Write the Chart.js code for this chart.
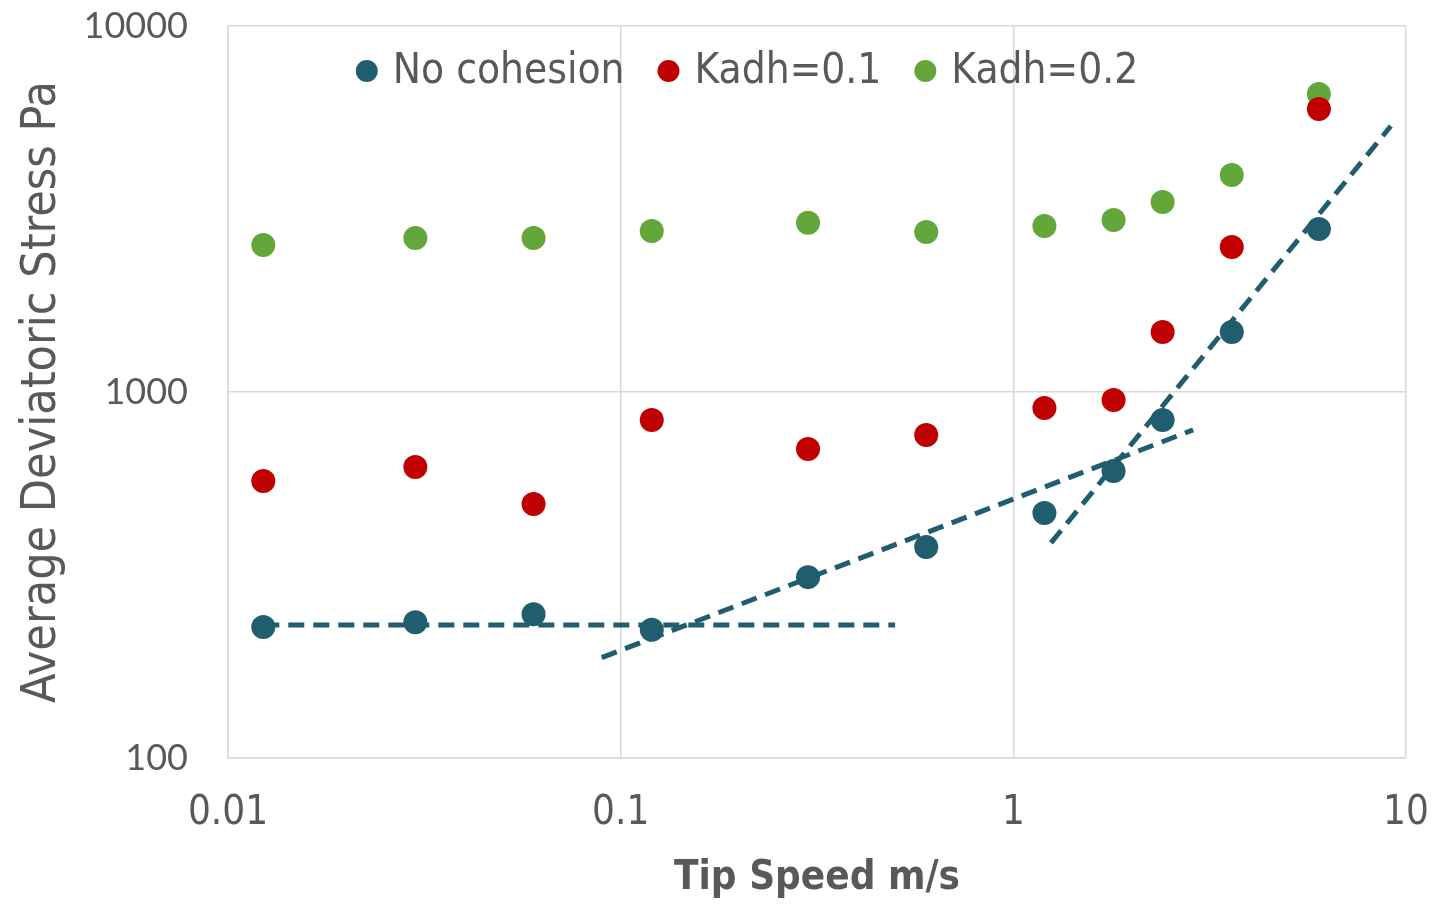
<!DOCTYPE html>
<html lang="en">
<head>
<meta charset="UTF-8">
<title>Average Deviatoric Stress vs Tip Speed</title>
<script src="https://cdn.jsdelivr.net/npm/chart.js"></script>
<style>
  html, body { margin: 0; padding: 0; background: #fff; }
  #wrap { width: 1432px; height: 904px; }
</style>
</head>
<body>
<div id="wrap"><canvas id="stressChart"></canvas></div>
<script>
    // tip speeds (m/s)
    const tipSpeed = [0.0123, 0.03, 0.06, 0.12, 0.3, 0.6, 1.2, 1.8, 2.4, 3.6, 6.0];

    // average deviatoric stress (Pa)
    const noCohesion = [228, 235, 247, 224, 312, 377, 467, 608, 838, 1459, 2790];
    const kadh01 = [571, 624, 494, 838, 699, 763, 904, 951, 1459, 2490, 5930];
    const kadh02 = [2520, 2635, 2635, 2754, 2900, 2737, 2842, 2951, 3305, 3916, 6520];

    // fitted regimes for the no-cohesion case (end points)
    const fitFlatX = [0.0123, 0.5];
    const fitFlatY = [231, 231];
    const fitMidX = [0.0895, 2.87];
    const fitMidY = [188, 788];
    const fitSteepX = [1.247, 9.15];
    const fitSteepY = [387, 5330];

    const xTicks = [0.01, 0.1, 1, 10];
    const yTicks = [100, 1000, 10000];

    const TEAL = '#1F5D6F';
    const RED = '#C00000';
    const GREEN = '#63A63A';
    const GREY_TEXT = '#595959';
    const NARROW = '"Liberation Sans Narrow", "DejaVu Sans Condensed", "Roboto", sans-serif';

    const toPoints = (xs, ys) => xs.map((x, i) => ({ x: x, y: ys[i] }));

    function scatterSet(label, ys, color) {
        return {
            type: 'scatter',
            label: label,
            data: toPoints(tipSpeed, ys),
            backgroundColor: color,
            borderColor: color,
            pointRadius: 12,
            pointHoverRadius: 12,
            borderWidth: 0,
            inLegend: true
        };
    }

    function fitSet(xs, ys) {
        return {
            type: 'line',
            data: toPoints(xs, ys),
            borderColor: TEAL,
            borderWidth: 5,
            borderDash: [16, 9],
            pointRadius: 0,
            fill: false,
            inLegend: false
        };
    }

    // legend drawn inside the plot, near the top
    const innerLegend = {
        id: 'innerLegend',
        afterDraw(chart) {
            const ctx = chart.ctx;
            const items = chart.data.datasets.filter(d => d.inLegend);
            const r = 11, gapDot = 15, gapItem = 33;
            ctx.save();
            ctx.font = '42px ' + NARROW;
            ctx.textBaseline = 'middle';
            const widths = items.map(d => ctx.measureText(d.label).width);
            let total = 0;
            widths.forEach((w, i) => { total += 2 * r + gapDot + w + (i < widths.length - 1 ? gapItem : 0); });
            let x = 747 - total / 2;
            const y = 71;
            items.forEach((d, i) => {
                ctx.fillStyle = d.backgroundColor;
                ctx.beginPath();
                ctx.arc(x + r, y, r, 0, Math.PI * 2);
                ctx.fill();
                x += 2 * r + gapDot;
                ctx.fillStyle = GREY_TEXT;
                ctx.fillText(d.label, x, y + 1);
                x += widths[i] + gapItem;
            });
            ctx.restore();
        }
    };

    const datasets = [
        fitSet(fitFlatX, fitFlatY),
        fitSet(fitMidX, fitMidY),
        fitSet(fitSteepX, fitSteepY),
        scatterSet('No cohesion', noCohesion, TEAL),
        scatterSet('Kadh=0.1', kadh01, RED),
        scatterSet('Kadh=0.2', kadh02, GREEN)
    ];

    new Chart(document.getElementById('stressChart').getContext('2d'), {
        type: 'scatter',
        data: { datasets: datasets },
        options: {
            responsive: true,
            maintainAspectRatio: false,
            animation: false,
            layout: { padding: { top: 26, right: 26, left: 0, bottom: 0 } },
            scales: {
                x: {
                    type: 'logarithmic',
                    min: 0.01,
                    max: 10,
                    afterBuildTicks: s => { s.ticks = xTicks.map(v => ({ value: v })); },
                    afterFit: s => { s.height = 146; s.paddingLeft = 0; s.paddingRight = 0; },
                    border: { color: '#D9D9D9', width: 1.5 },
                    grid: { color: '#D9D9D9', lineWidth: 1.5, drawTicks: false },
                    ticks: {
                        color: GREY_TEXT,
                        padding: 32,
                        maxRotation: 0,
                        autoSkip: false,
                        font: { family: NARROW, size: 40 },
                        callback: v => String(v)
                    },
                    title: {
                        display: true,
                        text: 'Tip Speed m/s',
                        color: GREY_TEXT,
                        font: { family: NARROW, size: 40, weight: 'bold' },
                        padding: { top: 0, bottom: 1 }
                    }
                },
                y: {
                    type: 'logarithmic',
                    min: 100,
                    max: 10000,
                    afterBuildTicks: s => { s.ticks = yTicks.map(v => ({ value: v })); },
                    afterFit: s => { s.width = 228; s.paddingTop = 0; s.paddingBottom = 0; },
                    border: { color: '#D9D9D9', width: 1.5 },
                    grid: { color: '#D9D9D9', lineWidth: 1.5, drawTicks: false },
                    ticks: {
                        color: GREY_TEXT,
                        padding: 40,
                        autoSkip: false,
                        font: { family: '"Lato", "DejaVu Sans", sans-serif', size: 36 },
                        callback: v => String(v)
                    },
                    title: {
                        display: true,
                        text: 'Average Deviatoric Stress Pa',
                        color: GREY_TEXT,
                        font: { family: NARROW, size: 48 },
                        padding: { top: 14, bottom: 0 }
                    }
                }
            },
            plugins: {
                legend: { display: false },
                tooltip: { enabled: false }
            }
        },
        plugins: [innerLegend]
    });
</script>
</body>
</html>
